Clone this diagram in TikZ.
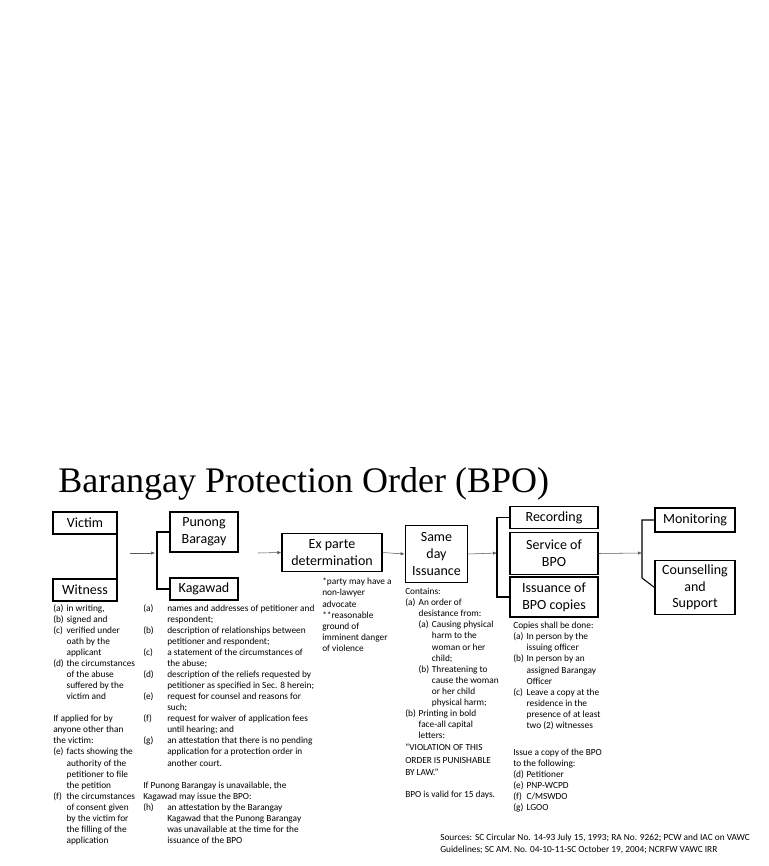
\documentclass[tikz,border=0pt]{standalone}
\usepackage{fontspec}
\setmainfont{Carlito}
\newfontfamily\titlefont{Liberation Serif}
\usetikzlibrary{arrows.meta}
\begin{document}
\begin{tikzpicture}[x=0.75pt,y=-0.75pt,
  box/.style={draw,thick,align=center,inner sep=1pt,font=\fontsize{10.5}{12.5}\selectfont},
  note/.style={anchor=north west,align=left,inner sep=0pt,font=\fontsize{7}{8.3}\selectfont},
  arr/.style={-{Latex[length=3pt,width=2.5pt]},gray!70!black},
  brk/.style={black,thick}]
\useasboundingbox (0,0) rectangle (768,866);
\newcommand\lb[1]{\makebox[10pt][l]{#1}}
\newcommand\lw[1]{\makebox[18pt][l]{#1}}
\node[anchor=base west,inner sep=0pt,font=\titlefont\fontsize{27}{30}\selectfont] (title) at (58,492) {Barangay Protection Order (BPO)};
% boxes
\node[box,minimum width=48pt,minimum height=16.5pt] (victim) at (85,523) {Victim};
\node[box,minimum width=48pt,minimum height=16.5pt] (witness) at (85,590) {Witness};
\node[box,minimum width=51pt,minimum height=30pt] (punong) at (204,532) {Punong\\Baragay};
\node[box,minimum width=51pt,minimum height=16.5pt] (kagawad) at (204,589) {Kagawad};
\node[box,minimum width=75pt,minimum height=29pt] (exparte) at (332,552.5) {Ex parte\\determination};
\node[box,minimum width=47pt,minimum height=43pt] (sameday) at (436.5,554) {Same\\day\\Issuance};
\node[box,minimum width=66pt,minimum height=16pt] (recording) at (554,517.5) {Recording};
\node[box,minimum width=66pt,minimum height=31pt] (service) at (554,553.5) {Service of\\BPO};
\node[box,minimum width=66pt,minimum height=30pt] (issuance) at (554,597) {Issuance of\\BPO copies};
\node[box,minimum width=60pt,minimum height=18pt] (monitoring) at (695,520) {Monitoring};
\node[box,minimum width=60pt,minimum height=41pt] (counsel) at (695,587.5) {Counselling\\and\\Support};
% connectors
\coordinate (a1s) at (130,553); \coordinate (a2s) at (258,553);
\draw[brk] (117,522) -- (117,590);
\draw[arr] (a1s) -- (155,553);
\draw[brk] (punong.west) -| (157,589) -- (kagawad.west);
\draw[arr] (a2s) -- (exparte.west);
\draw[arr] (exparte.east) -- (sameday.west);
\draw[arr] (sameday.east) -- (497,553);
\draw[brk] (recording.west) -| (497,597) -- (issuance.west);
\draw[arr] (service.east) -- (642,553);
\draw[brk] (monitoring.west) -| (642,578) -- (counsel.west);
% notes
\node[note] (n1) at (53,604) {\lb{(a)}in writing,\\\lb{(b)}signed and\\\lb{(c)}verified under\\\lb{}oath by the\\\lb{}applicant\\\lb{(d)}the circumstances\\\lb{}of the abuse\\\lb{}suffered by the\\\lb{}victim and\\[8.3pt]If applied for by\\anyone other than\\the victim:\\\lb{(e)}facts showing the\\\lb{}authority of the\\\lb{}petitioner to file\\\lb{}the petition\\\lb{(f)}the circumstances\\\lb{}of consent given\\\lb{}by the victim for\\\lb{}the filling of the\\\lb{}application};
\node[note] (n2) at (143,604) {\lw{(a)}names and addresses of petitioner and\\\lw{}respondent;\\\lw{(b)}description of relationships between\\\lw{}petitioner and respondent;\\\lw{(c)}a statement of the circumstances of\\\lw{}the abuse;\\\lw{(d)}description of the reliefs requested by\\\lw{}petitioner as specified in Sec. 8 herein;\\\lw{(e)}request for counsel and reasons for\\\lw{}such;\\\lw{(f)}request for waiver of application fees\\\lw{}until hearing; and\\\lw{(g)}an attestation that there is no pending\\\lw{}application for a protection order in\\\lw{}another court.\\[8.3pt]If Punong Barangay is unavailable, the\\Kagawad may issue the BPO:\\\lw{(h)}an attestation by the Barangay\\\lw{}Kagawad that the Punong Barangay\\\lw{}was unavailable at the time for the\\\lw{}issuance of the BPO};
\node[note] (n3) at (322,578) {*party may have a\\non-lawyer\\advocate\\**reasonable\\ground of\\imminent danger\\of violence};
\node[note] (n4) at (405,588) {Contains:\\\lb{(a)}An order of\\\lb{}desistance from:\\\lb{}\lb{(a)}Causing physical\\\lb{}\lb{}harm to the\\\lb{}\lb{}woman or her\\\lb{}\lb{}child;\\\lb{}\lb{(b)}Threatening to\\\lb{}\lb{}cause the woman\\\lb{}\lb{}or her child\\\lb{}\lb{}physical harm;\\\lb{(b)}Printing in bold\\\lb{}face-all capital\\\lb{}letters:\\[1pt]``VIOLATION OF THIS\\[1pt]ORDER IS PUNISHABLE\\[1pt]BY LAW.''\\[8pt]BPO is valid for 15 days.};
\node[note] (n5) at (513,622) {Copies shall be done:\\\lb{(a)}In person by the\\\lb{}issuing officer\\\lb{(b)}In person by an\\\lb{}assigned Barangay\\\lb{}Officer\\\lb{(c)}Leave a copy at the\\\lb{}residence in the\\\lb{}presence of at least\\\lb{}two (2) witnesses\\[12pt]Issue a copy of the BPO\\to the following:\\\lb{(d)}Petitioner\\\lb{(e)}PNP-WCPD\\\lb{(f)}C/MSWDO\\\lb{(g)}LGOO};
\node[note,font=\fontsize{7}{9}\selectfont] (src) at (440,834) {Sources: SC Circular No. 14-93 July 15, 1993; RA No. 9262; PCW and IAC on VAWC\\Guidelines; SC AM. No. 04-10-11-SC October 19, 2004; NCRFW VAWC IRR};
\end{tikzpicture}
\end{document}
